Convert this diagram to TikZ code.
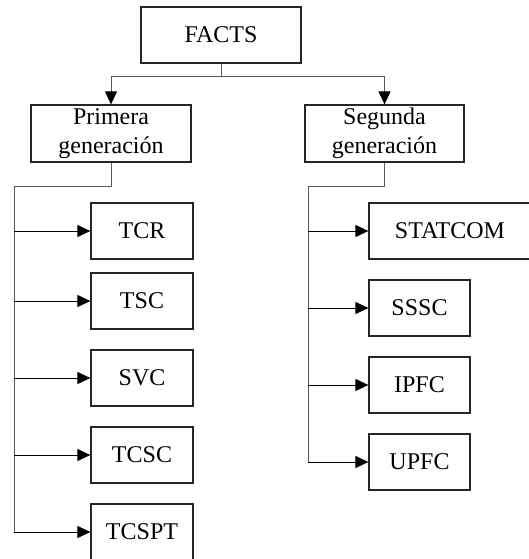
\documentclass[tikz,border=0pt]{standalone}
\usepackage{fontspec}
\setmainfont{Liberation Serif}
\usetikzlibrary{arrows.meta}
\begin{document}
\begin{tikzpicture}[x=1pt,y=-1pt,
  box/.style={draw=black!85,line width=1.2pt,rectangle,inner sep=0pt,
    align=center,font=\fontsize{24}{29}\selectfont},
  trunk/.style={draw=black!65,line width=1pt},
  arr/.style={draw=black,line width=1pt,-{Triangle[length=13pt,width=12pt]}},
  garr/.style={draw=black!65,line width=1pt,-{Triangle[length=13pt,width=12pt,color=black]}}]
\useasboundingbox (0,0) rectangle (529,559);
\clip (0,0) rectangle (529,559);

% root and the two generations
\node[box,minimum width=160pt,minimum height=56pt] (facts) at (221,35) {FACTS};
\node[box,minimum width=160pt,minimum height=57pt] (prim) at (111,133.5) {Primera\\generación};
\node[box,minimum width=159pt,minimum height=57pt] (seg) at (384.5,133.5) {Segunda\\generación};

% first-generation devices
\foreach \n/\t/\y in {tcr/TCR/231, tsc/TSC/301, svc/SVC/378, tcsc/TCSC/455, tcspt/TCSPT/532}
  \node[box,minimum width=102pt,minimum height=56pt] (\n) at (142,\y) {\t};

% second-generation devices
\node[box,minimum width=162pt,minimum height=56pt] (statcom) at (450,231) {STATCOM};
\foreach \n/\t/\y in {sssc/SSSC/308, ipfc/IPFC/385, upfc/UPFC/462}
  \node[box,minimum width=101pt,minimum height=56pt] (\n) at (419.5,\y) {\t};

% connectors from the root
\coordinate (j) at (221,77);
\draw[trunk] (facts.south) -- (j);
\draw[garr] (j) -| (prim.north);
\draw[garr] (j) -| (seg.north);

% left bus
\coordinate (lt) at (14,186);
\draw[trunk] (prim.south) |- (lt) -- (lt |- tcspt.west);
\foreach \n in {tcr,tsc,svc,tcsc,tcspt}
  \draw[arr] (lt |- \n.west) -- (\n.west);

% right bus
\coordinate (rt) at (308,186);
\draw[trunk] (seg.south) |- (rt) -- (rt |- upfc.west);
\foreach \n in {statcom,sssc,ipfc,upfc}
  \draw[arr] (rt |- \n.west) -- (\n.west);
\end{tikzpicture}
\end{document}
